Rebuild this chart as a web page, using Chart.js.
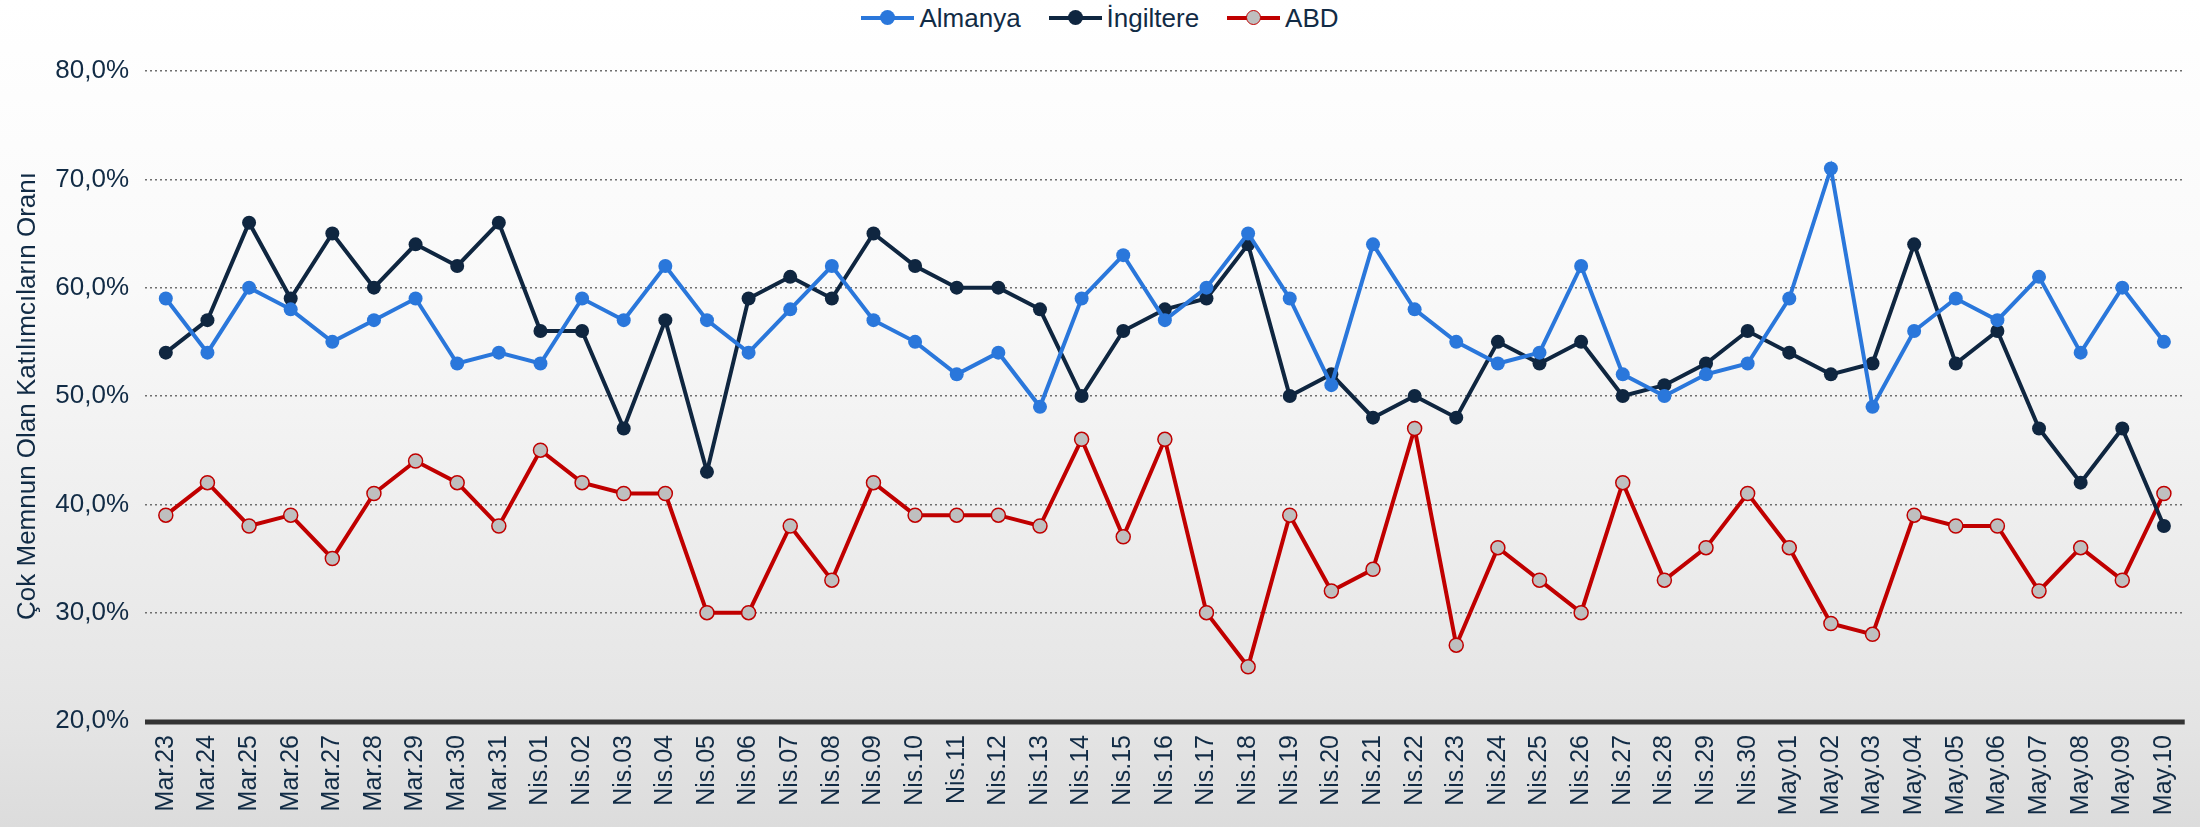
<!DOCTYPE html>
<html>
<head>
<meta charset="utf-8">
<script src="https://cdn.jsdelivr.net/npm/chart.js@4/dist/chart.umd.min.js"></script>
<style>
  html, body { margin: 0; padding: 0; }
  body {
    width: 2200px; height: 827px; overflow: hidden; position: relative;
    background: linear-gradient(to bottom, #ffffff 0%, #f9f9f9 35%, #e4e4e4 88%, #dcdcdc 100%);
    font-family: "Liberation Sans", Arial, sans-serif;
  }
  #legend {
    position: absolute; top: 0; left: 0; width: 2200px; height: 36px;
    display: flex; justify-content: center; align-items: center;
    color: #112b45; font-size: 26px;
  }
  .item { display: flex; align-items: center; margin: 0 14px; }
  .swatch { position: relative; width: 53px; height: 4px; margin-right: 5px; }
  .swatch i {
    position: absolute; left: 19px; top: -6px; width: 15px; height: 15px;
    border-radius: 50%; box-sizing: border-box;
  }
  #wrap { position: absolute; left: 0; top: 0; width: 2200px; height: 827px; }
</style>
</head>
<body>
<div id="legend"></div>
<div id="wrap"><canvas id="chart"></canvas></div>
<script>
  // Categories (dates)
  const labels = [
    "Mar.23", "Mar.24", "Mar.25", "Mar.26", "Mar.27", "Mar.28", "Mar.29", "Mar.30", "Mar.31",
    "Nis.01", "Nis.02", "Nis.03", "Nis.04", "Nis.05", "Nis.06", "Nis.07", "Nis.08", "Nis.09", "Nis.10",
    "Nis.11", "Nis.12", "Nis.13", "Nis.14", "Nis.15", "Nis.16", "Nis.17", "Nis.18", "Nis.19", "Nis.20",
    "Nis.21", "Nis.22", "Nis.23", "Nis.24", "Nis.25", "Nis.26", "Nis.27", "Nis.28", "Nis.29", "Nis.30",
    "May.01", "May.02", "May.03", "May.04", "May.05", "May.06", "May.07", "May.08", "May.09", "May.10"
  ];

  // Series values (%)
  const almanya = [
    59, 54, 60, 58, 55, 57, 59, 53, 54,
    53, 59, 57, 62, 57, 54, 58, 62, 57, 55,
    52, 54, 49, 59, 63, 57, 60, 65, 59, 51,
    64, 58, 55, 53, 54, 62, 52, 50, 52, 53,
    59, 71, 49, 56, 59, 57, 61, 54, 60, 55
  ];
  const ingiltere = [
    54, 57, 66, 59, 65, 60, 64, 62, 66,
    56, 56, 47, 57, 43, 59, 61, 59, 65, 62,
    60, 60, 58, 50, 56, 58, 59, 64, 50, 52,
    48, 50, 48, 55, 53, 55, 50, 51, 53, 56,
    54, 52, 53, 64, 53, 56, 47, 42, 47, 38
  ];
  const abd = [
    39, 42, 38, 39, 35, 41, 44, 42, 38,
    45, 42, 41, 41, 30, 30, 38, 33, 42, 39,
    39, 39, 38, 46, 37, 46, 30, 25, 39, 32,
    34, 47, 27, 36, 33, 30, 42, 33, 36, 41,
    36, 29, 28, 39, 38, 38, 32, 36, 33, 41
  ];

  // Axis settings
  const yMin = 20;
  const yMax = 80;
  const yStep = 10;
  const yTitle = "Çok Memnun Olan Katılımcıların Oranı";

  const textColor = "#112b45";
  const series = [
    { name: "Almanya", data: almanya, line: "#2a77db", fill: "#2a77db", border: "#2a77db" },
    { name: "İngiltere", data: ingiltere, line: "#0f2640", fill: "#0f2640", border: "#0f2640" },
    { name: "ABD", data: abd, line: "#c00000", fill: "#bfbfbf", border: "#c00000" }
  ];

  // Legend (html)
  const legend = document.getElementById("legend");
  series.forEach((s) => {
    const item = document.createElement("div");
    item.className = "item";
    item.innerHTML =
      '<span class="swatch" style="background:' + s.line + '"><i style="background:' + s.fill +
      ';border:' + (s.fill === s.border ? "0" : "1.5px solid " + s.border) + '"></i></span>' +
      "<span>" + s.name + "</span>";
    legend.appendChild(item);
  });

  // thick baseline under the plot
  const baseLine = {
    id: "baseLine",
    afterDraw: (chart) => {
      const { ctx, chartArea } = chart;
      ctx.save();
      ctx.strokeStyle = "#333333";
      ctx.lineWidth = 5;
      ctx.beginPath();
      ctx.moveTo(chartArea.left, chartArea.bottom + 1);
      ctx.lineTo(chartArea.right, chartArea.bottom + 1);
      ctx.stroke();
      ctx.restore();
    }
  };

  new Chart(document.getElementById("chart"), {
    type: "line",
    data: {
      labels: labels,
      datasets: series.map((s) => ({
        label: s.name,
        data: s.data,
        borderColor: s.line,
        backgroundColor: s.fill,
        pointBackgroundColor: s.fill,
        pointBorderColor: s.border,
        pointBorderWidth: s.fill === s.border ? 0 : 1.5,
        pointRadius: 7,
        borderWidth: 4,
        tension: 0,
        fill: false
      }))
    },
    options: {
      responsive: true,
      maintainAspectRatio: false,
      animation: false,
      layout: { padding: { top: 71, right: 0, left: 0, bottom: 0 } },
      plugins: {
        legend: { display: false },
        tooltip: { enabled: false }
      },
      scales: {
        x: {
          offset: true,
          grid: { display: false },
          border: { display: false },
          ticks: {
            color: textColor,
            font: { family: "Liberation Sans", size: 25 },
            maxRotation: 90,
            minRotation: 90,
            autoSkip: false,
            padding: 6
          },
          afterFit: (scale) => { scale.height = 106; }
        },
        y: {
          min: yMin,
          max: yMax,
          border: { display: false, dash: [2, 3] },
          grid: {
            color: "#6f6f6f",
            lineWidth: 1.5,
            drawTicks: false
          },
          ticks: {
            stepSize: yStep,
            padding: 16,
            color: textColor,
            font: { family: "Liberation Sans", size: 26 },
            callback: (v) => v.toFixed(1).replace(".", ",") + "%"
          },
          title: {
            display: true,
            text: yTitle,
            color: textColor,
            font: { family: "Liberation Sans", size: 26, weight: "normal" },
            padding: { top: 12, bottom: 0 }
          },
          afterFit: (scale) => { scale.width = 145; }
        }
      }
    },
    plugins: [baseLine]
  });
</script>
</body>
</html>
